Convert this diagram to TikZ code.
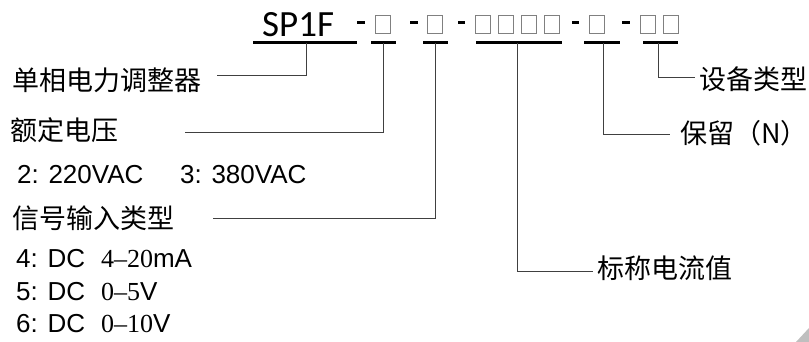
\documentclass[tikz,border=0pt]{standalone}
\usepackage{fontspec}
\setmainfont{Liberation Sans}
\newfontfamily\cjk{Noto Sans CJK SC}
\newfontfamily\calib{Carlito}
\newfontfamily\serifnum[Ligatures=TeX]{Liberation Serif}
\usetikzlibrary{positioning}

\begin{document}
\begin{tikzpicture}[x=1pt, y=-1pt,
    lbl/.style={inner sep=0pt, anchor=west, font=\cjk\fontsize{27}{29}\selectfont},
    txt/.style={inner sep=0pt, anchor=base west, font=\fontsize{26}{28}\selectfont},
    uline/.style={line width=3pt},
    lead/.style={line width=0.9pt, black!75},
    cell/.style={draw=gray, line width=0.8pt}]
\useasboundingbox (0,0) rectangle (809,342);

% Model code
\node[inner sep=0pt, anchor=base west, font=\calib\fontsize{37}{40}\selectfont] (code) at (262,37) {SP1F};

% Dashes
\foreach \xa/\xb in {357/365, 410/418, 458/465, 572/579, 622/630}
  \draw[uline] (\xa,23) -- (\xb,23);

% Empty cells
\foreach \xa in {375, 427, 475, 498, 521, 544, 589, 640, 663}
  \draw[cell] (\xa,15) rectangle ++(15,18);

% Underlines
\draw[uline] (253,43) -- (357,43);
\draw[uline] (371,43) -- (396,43);
\draw[uline] (423,43) -- (448,43);
\draw[uline] (476,43) -- (562,43);
\draw[uline] (584,43) -- (620,43);
\draw[uline] (643,43) -- (678,43);

\coordinate (f0) at (306,43);
\coordinate (f1) at (383,43);
\coordinate (f2) at (435,43);
\coordinate (f3) at (517,43);
\coordinate (f4) at (603,43);
\coordinate (f5) at (658,43);

% Labels
\node[lbl] (type)    at (12,80)  {单相电力调整器};
\node[lbl] (volt)    at (10,130) {额定电压};
\node[lbl] (signal)  at (12,218) {信号输入类型};
\node[lbl] (current) at (597,268) {标称电流值};
\node[lbl] (reserve) at (680,133) {保留（N）};
\node[lbl] (device)  at (699,79)  {设备类型};

% Options
\node[txt] (v2) at (17,183)  {2: 220VAC};
\node[txt] (v3) at (180,183) {3: 380VAC};
\node[txt] (s4) at (16,267)  {4: DC\hspace{16pt}{\serifnum 4--20}mA};
\node[txt] (s5) at (16,300)  {5: DC\hspace{16pt}{\serifnum 0--5}V};
\node[txt] (s6) at (16,332)  {6: DC\hspace{16pt}{\serifnum 0--10}V};

% Leader lines
\coordinate (e0) at (217,75);
\coordinate (e1) at (185,132);
\coordinate (e2) at (213,218);
\coordinate (e3) at (593,271);
\coordinate (e4) at (670,134);
\coordinate (e5) at (695,77);
\draw[lead] (f0) |- (e0);
\draw[lead] (f1) |- (e1);
\draw[lead] (f2) |- (e2);
\draw[lead] (f3) |- (e3);
\draw[lead] (f4) |- (e4);
\draw[lead] (f5) |- (e5);

% Corner mark
\fill[gray!50] (809,328) -- (809,342) -- (796,342) -- cycle;
\end{tikzpicture}
\end{document}
